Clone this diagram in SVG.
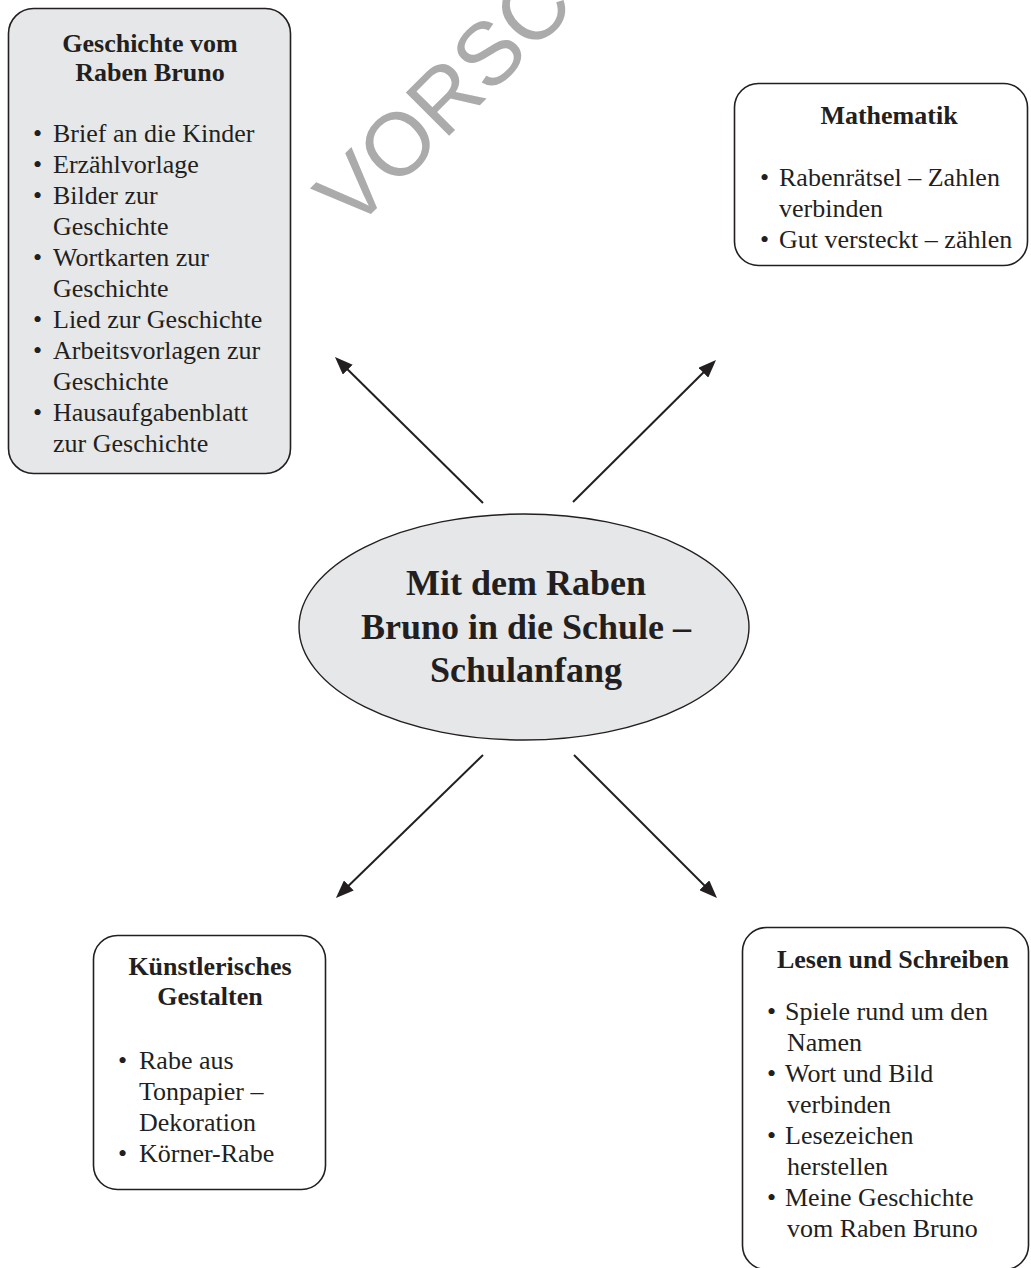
<svg xmlns="http://www.w3.org/2000/svg" width="1031" height="1268" viewBox="0 0 1031 1268">
<defs>
<style>
.box{stroke:#231f20;stroke-width:1.6}
.grey{fill:#e6e7e8}
.white{fill:#ffffff}
.t{font-family:"Liberation Serif","Times New Roman",serif;font-size:26px;fill:#231f20}
.h{font-weight:bold;text-anchor:middle}
.c{font-family:"Liberation Serif","Times New Roman",serif;font-size:36px;font-weight:bold;fill:#231f20;text-anchor:middle}
.con{stroke:#231f20;stroke-width:2;fill:none}
.wm{font-family:"Liberation Sans",Arial,sans-serif;font-size:89px;fill:#ababab}
</style>
<marker id="ah" markerUnits="userSpaceOnUse" markerWidth="18" markerHeight="14" refX="14" refY="7" orient="auto">
<path d="M0,0 L18,7 L0,14 z" fill="#231f20"/>
</marker>
</defs>
<rect width="1031" height="1268" fill="#ffffff"/>
<text class="wm" x="353" y="232" transform="rotate(-45 353 232)">VORSC</text>

<g id="connectors">
<line class="con" x1="483" y1="503" x2="337.8" y2="359.8" marker-end="url(#ah)"/>
<line class="con" x1="573" y1="502" x2="713.2" y2="362.8" marker-end="url(#ah)"/>
<line class="con" x1="483" y1="755" x2="338.8" y2="895.2" marker-end="url(#ah)"/>
<line class="con" x1="574" y1="755" x2="714.2" y2="895.2" marker-end="url(#ah)"/>
</g>

<g id="node-geschichte">
<rect class="box grey" x="8.5" y="8.5" width="282" height="465" rx="25"/>
<text class="t h" x="150" y="52">Geschichte vom</text>
<text class="t h" x="150" y="81">Raben Bruno</text>
<text class="t" x="33" y="142">•</text><text class="t" x="53" y="142">Brief an die Kinder</text>
<text class="t" x="33" y="173">•</text><text class="t" x="53" y="173">Erzählvorlage</text>
<text class="t" x="33" y="204">•</text><text class="t" x="53" y="204">Bilder zur</text>
<text class="t" x="53" y="235">Geschichte</text>
<text class="t" x="33" y="266">•</text><text class="t" x="53" y="266">Wortkarten zur</text>
<text class="t" x="53" y="297">Geschichte</text>
<text class="t" x="33" y="328">•</text><text class="t" x="53" y="328">Lied zur Geschichte</text>
<text class="t" x="33" y="359">•</text><text class="t" x="53" y="359">Arbeitsvorlagen zur</text>
<text class="t" x="53" y="390">Geschichte</text>
<text class="t" x="33" y="421">•</text><text class="t" x="53" y="421">Hausaufgabenblatt</text>
<text class="t" x="53" y="452">zur Geschichte</text>
</g>

<g id="node-mathematik">
<rect class="box white" x="734.5" y="83.5" width="293" height="182" rx="24"/>
<text class="t h" x="889" y="124">Mathematik</text>
<text class="t" x="760" y="186">•</text><text class="t" x="779" y="186">Rabenrätsel – Zahlen</text>
<text class="t" x="779" y="217">verbinden</text>
<text class="t" x="760" y="248">•</text><text class="t" x="779" y="248">Gut versteckt – zählen</text>
</g>

<g id="node-center">
<ellipse class="grey" cx="524" cy="627" rx="225" ry="113" stroke="#231f20" stroke-width="1.4"/>
<text class="c" x="526" y="595">Mit dem Raben</text>
<text class="c" x="526" y="639">Bruno in die Schule –</text>
<text class="c" x="526" y="682">Schulanfang</text>
</g>

<g id="node-kuenstlerisch">
<rect class="box white" x="93.5" y="935.5" width="232" height="254" rx="24"/>
<text class="t h" x="210" y="975">Künstlerisches</text>
<text class="t h" x="210" y="1005">Gestalten</text>
<text class="t" x="118" y="1069">•</text><text class="t" x="139" y="1069">Rabe aus</text>
<text class="t" x="139" y="1100">Tonpapier –</text>
<text class="t" x="139" y="1131">Dekoration</text>
<text class="t" x="118" y="1162">•</text><text class="t" x="139" y="1162">Körner-Rabe</text>
</g>

<g id="node-lesen">
<rect class="box white" x="742.5" y="927.5" width="286" height="342" rx="24"/>
<text class="t h" x="893" y="968">Lesen und Schreiben</text>
<text class="t" x="767" y="1020">•</text><text class="t" x="785" y="1020">Spiele rund um den</text>
<text class="t" x="787" y="1051">Namen</text>
<text class="t" x="767" y="1082">•</text><text class="t" x="785" y="1082">Wort und Bild</text>
<text class="t" x="787" y="1113">verbinden</text>
<text class="t" x="767" y="1144">•</text><text class="t" x="785" y="1144">Lesezeichen</text>
<text class="t" x="787" y="1175">herstellen</text>
<text class="t" x="767" y="1206">•</text><text class="t" x="785" y="1206">Meine Geschichte</text>
<text class="t" x="787" y="1237">vom Raben Bruno</text>
</g>
</svg>
